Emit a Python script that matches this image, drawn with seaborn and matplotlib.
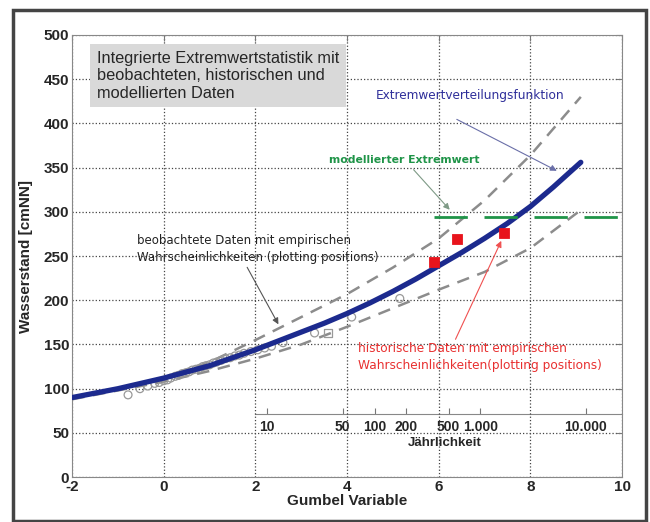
import numpy as np
import matplotlib.pyplot as plt
import seaborn as sns
from matplotlib.patches import Rectangle

# Extremwertverteilungsfunktion (blaue Kurve)
fit_x = [-2, -1.5, -1, -0.5, 0, 0.5, 1, 1.5, 2, 2.5, 3, 3.5, 4, 4.5, 5, 5.5, 6, 6.5, 7, 7.5, 8, 8.5, 9.1]
fit_y = [90, 95, 100, 106, 112, 119, 126, 135, 144, 154, 164, 174, 185, 197, 210, 224, 239, 254, 270, 287, 306, 328, 356]

# Vertrauensgrenzen (grau gestrichelt)
upper_x = [-2, -1, -0.5, 0, 1, 2, 3, 4, 5, 6, 7, 8, 9.1]
upper_y = [89, 100, 106, 113, 130, 155, 181, 207, 237, 270, 313, 364, 430]
lower_x = [-2, -1, 0, 1, 2, 3, 4, 5, 6, 7, 8, 9.1]
lower_y = [88, 98, 108, 120, 134, 150, 170, 191, 212, 232, 259, 302]

# beobachtete Daten
obs_x = [-0.78, -0.52, -0.35, -0.2, -0.1, 0.0, 0.08, 0.15, 0.25, 0.32, 0.4, 0.48, 0.55, 0.62,
         0.7, 0.78, 0.85, 0.92, 1.0, 1.08, 1.15, 1.25, 1.35, 1.45, 1.55, 1.65, 1.75, 1.9,
         2.05, 2.2, 2.35, 2.6, 3.29, 4.1, 5.15]
obs_y = [93, 100, 103, 106, 107, 109, 110, 112, 114, 115, 117, 118, 119, 121,
         122, 123, 125, 126, 127, 129, 130, 132, 134, 135, 137, 138, 140, 142,
         144, 146, 148, 152, 163, 181, 202]
obs_sq_x = [3.58]
obs_sq_y = [163]

# historische Daten
hist_x = [5.89, 6.39, 7.42]
hist_y = [243, 269, 276]

# modellierter Extremwert
model_x = [5.9, 10]
model_y = [294, 294]

# Jährlichkeit
T_ticks = [10, 50, 100, 200, 500, 1000, 10000]
T_labels = ['10', '50', '100', '200', '500', '1.000', '10.000']


def gumbel_to_T(g):
    g = np.asarray(g, dtype=float)
    with np.errstate(all='ignore'):
        return 1.0 / (-np.expm1(-np.exp(-g)))


def T_to_gumbel(T):
    T = np.clip(np.asarray(T, dtype=float), 1.0000001, None)
    with np.errstate(all='ignore'):
        return -np.log(-np.log1p(-1.0 / T))


sns.set_style('white')
plt.rcParams['font.family'] = ['Liberation Sans', 'DejaVu Sans']
plt.rcParams['axes.unicode_minus'] = False

fig = plt.figure(figsize=(6.5, 5.22), dpi=100)
ax = fig.add_axes([0.111, 0.086, 0.846, 0.847])

sns.lineplot(x=upper_x, y=upper_y, ax=ax, color='#8c8c8c', lw=1.8,
             linestyle=(0, (5, 3.5)), estimator=None, zorder=3)
sns.lineplot(x=lower_x, y=lower_y, ax=ax, color='#8c8c8c', lw=1.8,
             linestyle=(0, (5, 3.5)), estimator=None, zorder=3)
sns.scatterplot(x=obs_x, y=obs_y, ax=ax, marker='o', s=32, color='#999999',
                facecolor='none', edgecolor='#999999', linewidth=0.9, zorder=4)
sns.scatterplot(x=obs_sq_x, y=obs_sq_y, ax=ax, marker='s', s=30, color='#999999',
                facecolor='none', edgecolor='#999999', linewidth=0.9, zorder=4)
sns.lineplot(x=fit_x, y=fit_y, ax=ax, color='#1c2a8e', lw=3.8, estimator=None, zorder=5)
sns.lineplot(x=model_x, y=model_y, ax=ax, color='#1f9448', lw=2.0,
             linestyle=(0, (12, 6)), estimator=None, zorder=5)
sns.scatterplot(x=hist_x, y=hist_y, ax=ax, marker='s', s=55, color='#e8141c',
                edgecolor='#e8141c', zorder=6)

ax.set_xlim(-2, 10)
ax.set_ylim(0, 500)
ax.set_xticks(range(-2, 11, 2))
ax.set_yticks(range(0, 501, 50))
ax.grid(True, linestyle=':', color='#444444', lw=0.9)
ax.tick_params(direction='in', top=True, right=True, length=4, labelsize=11, pad=2,
               color='#777777')
for lbl in ax.get_xticklabels() + ax.get_yticklabels():
    lbl.set_fontweight('bold')
for sp in ax.spines.values():
    sp.set_color('#888888')
ax.set_xlabel('Gumbel Variable', fontsize=11, fontweight='bold', labelpad=0)
ax.set_ylabel('Wasserstand [cmNN]', fontsize=11, fontweight='bold', labelpad=8)

# zweite Achse: Jährlichkeit
sec = ax.secondary_xaxis(71 / 500, functions=(gumbel_to_T, T_to_gumbel))
sec.set_xticks(T_ticks, labels=T_labels)
sec.tick_params(direction='in', length=4, labelsize=10, pad=4, color='#777777')
for lbl in sec.get_xticklabels():
    lbl.set_fontweight('bold')
sec.spines['bottom'].set_color('#888888')
sec.spines['bottom'].set_bounds(gumbel_to_T(2.0), gumbel_to_T(10.0))
sec.set_xlabel('Jährlichkeit', fontsize=9.5, fontweight='bold', labelpad=2)
sec.xaxis.label.set_x(0.678)

# Beschriftungen
ax.text(-1.46, 482, 'Integrierte Extremwertstatistik mit\nbeobachteten, historischen und\nmodellierten Daten',
        ha='left', va='top', fontsize=11.8, linespacing=1.2, zorder=7,
        bbox=dict(boxstyle='square,pad=0.4', fc='#d9d9d9', ec='none'))

ann = dict(family='DejaVu Sans', zorder=7)
ax.text(6.69, 431, 'Extremwertverteilungsfunktion', ha='center', va='center',
        color='#2f2f9a', fontsize=8.7, **ann)
ax.annotate('', xy=(8.63, 345), xytext=(6.34, 406), zorder=7,
            arrowprops=dict(arrowstyle='-|>', color='#6a6fa8', lw=0.8, mutation_scale=9))
ax.text(5.25, 359, 'modellierter Extremwert', ha='center', va='center',
        color='#1f9448', fontweight='bold', fontsize=7.8, **ann)
ax.annotate('', xy=(6.28, 300), xytext=(5.41, 350), zorder=7,
            arrowprops=dict(arrowstyle='-|>', color='#7e9a86', lw=0.8, mutation_scale=9))
ax.text(-0.58, 258, 'beobachtete Daten mit empirischen\nWahrscheinlichkeiten (plotting positions)',
        ha='left', va='center', color='#222222', linespacing=1.45, fontsize=8.5, **ann)
ax.annotate('', xy=(2.53, 170), xytext=(1.79, 240), zorder=7,
            arrowprops=dict(arrowstyle='-|>', color='#555555', lw=0.8, mutation_scale=9))
ax.text(4.23, 136, 'historische Daten mit empirischen\nWahrscheinlichkeiten(plotting positions)',
        ha='left', va='center', color='#e83030', linespacing=1.45, fontsize=8.7, **ann)
ax.annotate('', xy=(7.39, 270), xytext=(6.34, 153), zorder=7,
            arrowprops=dict(arrowstyle='-|>', color='#f05050', lw=0.8, mutation_scale=9))

# Rahmen um die Abbildung
fig.patches.append(Rectangle((13 / 650, 1 / 522), 633 / 650, 511 / 522,
                             transform=fig.transFigure, fill=False,
                             ec='#444444', lw=2.5))

fig.savefig('out.png', dpi=100)
